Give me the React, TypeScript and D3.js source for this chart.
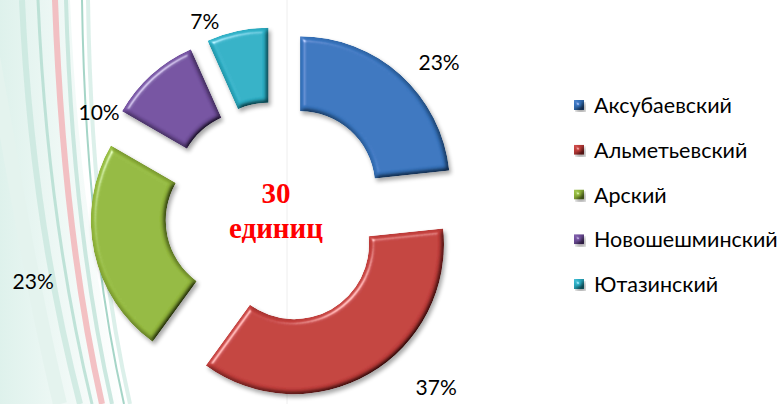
import React from 'react';
import * as d3 from 'd3';

const districts = ['Аксубаевский', 'Альметьевский', 'Арский', 'Новошешминский', 'Ютазинский'];
const units = [7, 11, 7, 3, 2];
const colors = ['#3b7bc8', '#cc423f', '#9bc240', '#7a56a8', '#30b9d0'];
const totalLabel = ['30', 'единиц'];

// label placement nudges (layout only)
const labelAngleNudge = [6, -15, -4, -22, -10];
const labelRadius = [187, 201, 216, 170, 170];

const W = 784;
const H = 404;

export default function App() {
  const cx = 276;
  const cy = 213;
  const outer = 150;
  const inner = 75;
  const explode = 36;
  const total = d3.sum(units);

  const pie = d3.pie<number>().sort(null).value(d => d).startAngle(0).endAngle(2 * Math.PI);
  const arcs = pie(units);
  const arc = d3.arc<d3.PieArcDatum<number>>().innerRadius(inner).outerRadius(outer);
  const fmt = d3.format('.0%');

  const legendY = d3.scalePoint<string>().domain(districts).range([105, 284]);
  const font = "Lato, 'Noto Sans', sans-serif";

  return (
    <svg width={W} height={H} style={{ display: 'block', position: 'absolute', left: 0, top: 0 }}>
      <defs>
        <filter id="bevel" x="-10%" y="-10%" width="130%" height="130%">
          <feGaussianBlur in="SourceAlpha" stdDeviation="2.5" result="blur" />
          <feSpecularLighting in="blur" surfaceScale="5" specularConstant="0.9" specularExponent="30" lightingColor="#ffffff" result="spec">
            <feDistantLight azimuth={225} elevation={35} />
          </feSpecularLighting>
          <feComposite in="spec" in2="SourceAlpha" operator="in" result="specOut" />
          <feDiffuseLighting in="blur" surfaceScale="5" diffuseConstant="1" lightingColor="#ffffff" result="diff">
            <feDistantLight azimuth={225} elevation={60} />
          </feDiffuseLighting>
          <feComposite in="SourceGraphic" in2="diff" operator="arithmetic" k1="1.04" k2="0" k3="0" k4="0" result="shaded" />
          <feComposite in="shaded" in2="SourceAlpha" operator="in" result="shadedIn" />
          <feComposite in="shadedIn" in2="specOut" operator="arithmetic" k1="0" k2="1" k3="0.5" k4="0" result="lit" />
          <feGaussianBlur in="SourceAlpha" stdDeviation="2" result="sh" />
          <feOffset in="sh" dx="2" dy="3" result="sho" />
          <feComponentTransfer in="sho" result="shf">
            <feFuncA type="linear" slope="0.35" />
          </feComponentTransfer>
          <feMerge>
            <feMergeNode in="shf" />
            <feMergeNode in="lit" />
          </feMerge>
        </filter>
        <linearGradient id="bgfade" x1="0" x2="1" y1="0" y2="0">
          <stop offset="0" stopColor="#d6eee7" />
          <stop offset="1" stopColor="#ffffff" />
        </linearGradient>
      </defs>
      <rect width={W} height={H} fill="#ffffff" />
      <g>
        <path d="M0,0 L70,0 C76,140 92,280 125,404 L0,404 Z" fill="url(#bgfade)" opacity={0.8} />
        <path d="M-10,40 C10,150 30,280 60,404" stroke="#e4f3ee" strokeWidth={14} fill="none" />
        <path d="M22,0 C28,140 48,280 80,404" stroke="#c4e5db" strokeWidth={6} fill="none" opacity={0.7} />
        <path d="M38,0 C44,140 62,280 92,404" stroke="#a9d8ca" strokeWidth={3} fill="none" opacity={0.7} />
        <path d="M55,0 C60,140 74,280 102,404" stroke="#f2b6ba" strokeWidth={6} fill="none" opacity={0.85} />
        <path d="M66,0 C70,140 84,280 112,404" stroke="#bfe2d8" strokeWidth={4} fill="none" opacity={0.8} />
        <path d="M82,0 C84,140 96,280 124,404" stroke="#8fcbb9" strokeWidth={2} fill="none" opacity={0.8} />
        <path d="M88,0 C90,140 102,280 130,404" stroke="#d3ece5" strokeWidth={4} fill="none" opacity={0.8} />
      </g>
      <line x1={287} x2={287} y1={0} y2={H} stroke="#eeeeee" strokeWidth={1} />

      {arcs.map((a, i) => {
        const mid = (a.startAngle + a.endAngle) / 2;
        const dx = Math.sin(mid) * explode;
        const dy = -Math.cos(mid) * explode;
        return (
          <g key={districts[i]} transform={`translate(${cx + dx},${cy + dy})`}>
            <path d={arc(a) || ''} fill={colors[i]} filter="url(#bevel)" />
          </g>
        );
      })}

      {arcs.map((a, i) => {
        const mid = (a.startAngle + a.endAngle) / 2;
        const ox = cx + Math.sin(mid) * explode;
        const oy = cy - Math.cos(mid) * explode;
        const la = mid + (labelAngleNudge[i] * Math.PI) / 180;
        const lx = ox + Math.sin(la) * labelRadius[i];
        const ly = oy - Math.cos(la) * labelRadius[i];
        return (
          <text key={'l' + i} x={lx} y={ly} textAnchor="middle" dominantBaseline="central"
            fontFamily={font} fontSize={21} fill="#000">
            {fmt(units[i] / total)}
          </text>
        );
      })}

      <text x={cx} y={203} textAnchor="middle"
        fontFamily="'Liberation Serif', serif" fontWeight="bold" fontSize={29} fill="#ff0000">
        {totalLabel[0]}
      </text>
      <text x={cx} y={238} textAnchor="middle"
        fontFamily="'Liberation Serif', serif" fontWeight="bold" fontSize={29} fill="#ff0000">
        {totalLabel[1]}
      </text>

      {districts.map((d, i) => (
        <g key={'lg' + i} transform={`translate(574,${legendY(d)})`}>
          <rect x={0} y={-5} width={10} height={10} fill={colors[i]} filter="url(#bevel)" />
          <text x={20} y={0} dominantBaseline="central" fontFamily={font} fontSize={21.5} fill="#000">
            {d}
          </text>
        </g>
      ))}
    </svg>
  );
}
